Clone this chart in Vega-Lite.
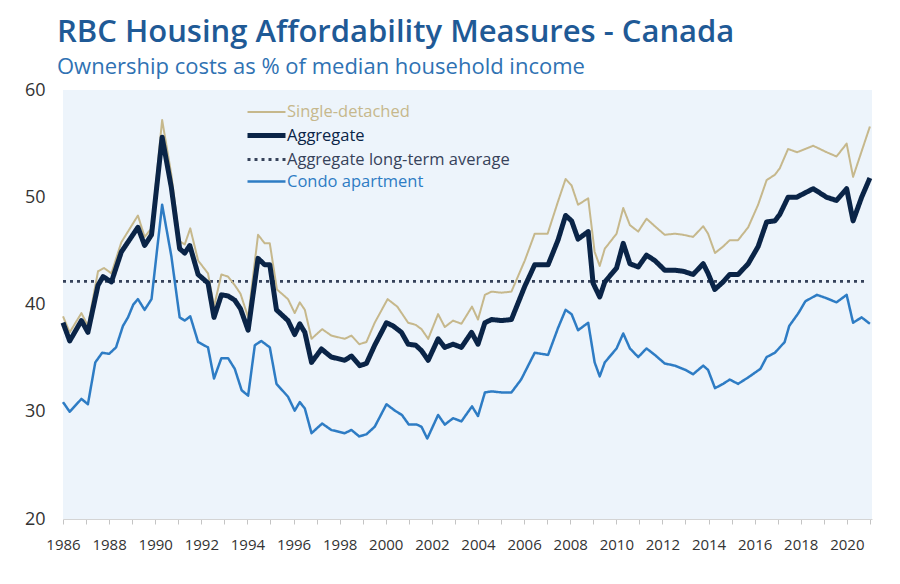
{
  "$schema": "https://vega.github.io/schema/vega-lite/v6.json",
  "width": 809,
  "height": 429,
  "autosize": {"type": "none"},
  "padding": {"left": 63, "top": 90, "right": 28, "bottom": 65},
  "background": "white",
  "view": {"fill": "#edf4fb", "stroke": null},
  "title": {
    "text": "RBC Housing Affordability Measures - Canada",
    "subtitle": "Ownership costs as % of median household income",
    "anchor": "start",
    "frame": "group",
    "dx": -6,
    "offset": 2,
    "font": "Open Sans",
    "fontSize": 31,
    "fontWeight": 600,
    "color": "#1f5a96",
    "subtitleFont": "Open Sans",
    "subtitleFontSize": 22,
    "subtitleColor": "#2f72b3",
    "subtitlePadding": 8
  },
  "config": {
    "font": "Open Sans",
    "legend": {
      "orient": "none",
      "legendX": 200,
      "legendY": 11,
      "title": null,
      "symbolType": "M-2.8,0H1",
      "symbolSize": 400,
      "labelFontSize": 16.5,
      "labelFont": "Open Sans",
      "labelOffset": -1,
      "labelLimit": 400,
      "rowPadding": 2
    }
  },
  "datasets": {
    "d": [
      {"s": "Aggregate long-term average", "t": 1986.0, "v": 42.15},
      {"s": "Aggregate long-term average", "t": 2020.77, "v": 42.15},
      {"s": "Aggregate", "t": 1986.0, "v": 38.3},
      {"s": "Aggregate", "t": 1986.29, "v": 36.6},
      {"s": "Aggregate", "t": 1986.8, "v": 38.5},
      {"s": "Aggregate", "t": 1987.08, "v": 37.4},
      {"s": "Aggregate", "t": 1987.52, "v": 41.8},
      {"s": "Aggregate", "t": 1987.74, "v": 42.6},
      {"s": "Aggregate", "t": 1988.1, "v": 42.1},
      {"s": "Aggregate", "t": 1988.53, "v": 44.9},
      {"s": "Aggregate", "t": 1989.25, "v": 47.2},
      {"s": "Aggregate", "t": 1989.54, "v": 45.5},
      {"s": "Aggregate", "t": 1989.84, "v": 46.5},
      {"s": "Aggregate", "t": 1990.3, "v": 55.6},
      {"s": "Aggregate", "t": 1990.7, "v": 50.9},
      {"s": "Aggregate", "t": 1991.06, "v": 45.2},
      {"s": "Aggregate", "t": 1991.28, "v": 44.8},
      {"s": "Aggregate", "t": 1991.5, "v": 45.5},
      {"s": "Aggregate", "t": 1991.86, "v": 42.8},
      {"s": "Aggregate", "t": 1992.29, "v": 42.0},
      {"s": "Aggregate", "t": 1992.55, "v": 38.8},
      {"s": "Aggregate", "t": 1992.87, "v": 40.9},
      {"s": "Aggregate", "t": 1993.16, "v": 40.8},
      {"s": "Aggregate", "t": 1993.45, "v": 40.4},
      {"s": "Aggregate", "t": 1993.7, "v": 39.6},
      {"s": "Aggregate", "t": 1994.03, "v": 37.6},
      {"s": "Aggregate", "t": 1994.46, "v": 44.3},
      {"s": "Aggregate", "t": 1994.75, "v": 43.7},
      {"s": "Aggregate", "t": 1994.97, "v": 43.7},
      {"s": "Aggregate", "t": 1995.26, "v": 39.5},
      {"s": "Aggregate", "t": 1995.76, "v": 38.5},
      {"s": "Aggregate", "t": 1996.05, "v": 37.2},
      {"s": "Aggregate", "t": 1996.27, "v": 38.2},
      {"s": "Aggregate", "t": 1996.49, "v": 37.4},
      {"s": "Aggregate", "t": 1996.78, "v": 34.6},
      {"s": "Aggregate", "t": 1997.21, "v": 35.85},
      {"s": "Aggregate", "t": 1997.64, "v": 35.1},
      {"s": "Aggregate", "t": 1998.22, "v": 34.8},
      {"s": "Aggregate", "t": 1998.51, "v": 35.2},
      {"s": "Aggregate", "t": 1998.87, "v": 34.3},
      {"s": "Aggregate", "t": 1999.16, "v": 34.5},
      {"s": "Aggregate", "t": 1999.52, "v": 36.2},
      {"s": "Aggregate", "t": 2000.03, "v": 38.3},
      {"s": "Aggregate", "t": 2000.32, "v": 38.0},
      {"s": "Aggregate", "t": 2000.68, "v": 37.4},
      {"s": "Aggregate", "t": 2000.97, "v": 36.3},
      {"s": "Aggregate", "t": 2001.3, "v": 36.2},
      {"s": "Aggregate", "t": 2001.55, "v": 35.7},
      {"s": "Aggregate", "t": 2001.84, "v": 34.8},
      {"s": "Aggregate", "t": 2002.27, "v": 36.8},
      {"s": "Aggregate", "t": 2002.56, "v": 36.0},
      {"s": "Aggregate", "t": 2002.92, "v": 36.3},
      {"s": "Aggregate", "t": 2003.28, "v": 36.0},
      {"s": "Aggregate", "t": 2003.72, "v": 37.4},
      {"s": "Aggregate", "t": 2004.0, "v": 36.3},
      {"s": "Aggregate", "t": 2004.3, "v": 38.3},
      {"s": "Aggregate", "t": 2004.59, "v": 38.6},
      {"s": "Aggregate", "t": 2005.02, "v": 38.5},
      {"s": "Aggregate", "t": 2005.45, "v": 38.6},
      {"s": "Aggregate", "t": 2006.03, "v": 41.7},
      {"s": "Aggregate", "t": 2006.46, "v": 43.7},
      {"s": "Aggregate", "t": 2007.04, "v": 43.7},
      {"s": "Aggregate", "t": 2007.47, "v": 46.0},
      {"s": "Aggregate", "t": 2007.8, "v": 48.3},
      {"s": "Aggregate", "t": 2008.06, "v": 47.8},
      {"s": "Aggregate", "t": 2008.34, "v": 46.1},
      {"s": "Aggregate", "t": 2008.78, "v": 46.8},
      {"s": "Aggregate", "t": 2008.99, "v": 42.0},
      {"s": "Aggregate", "t": 2009.28, "v": 40.7},
      {"s": "Aggregate", "t": 2009.5, "v": 42.1},
      {"s": "Aggregate", "t": 2010.01, "v": 43.4},
      {"s": "Aggregate", "t": 2010.3, "v": 45.7},
      {"s": "Aggregate", "t": 2010.59, "v": 43.8},
      {"s": "Aggregate", "t": 2010.95, "v": 43.5},
      {"s": "Aggregate", "t": 2011.31, "v": 44.6},
      {"s": "Aggregate", "t": 2011.67, "v": 44.1},
      {"s": "Aggregate", "t": 2012.1, "v": 43.2},
      {"s": "Aggregate", "t": 2012.54, "v": 43.2},
      {"s": "Aggregate", "t": 2012.9, "v": 43.1},
      {"s": "Aggregate", "t": 2013.33, "v": 42.8},
      {"s": "Aggregate", "t": 2013.77, "v": 43.8},
      {"s": "Aggregate", "t": 2013.98, "v": 42.9},
      {"s": "Aggregate", "t": 2014.27, "v": 41.4},
      {"s": "Aggregate", "t": 2014.63, "v": 42.1},
      {"s": "Aggregate", "t": 2014.92, "v": 42.8},
      {"s": "Aggregate", "t": 2015.28, "v": 42.8},
      {"s": "Aggregate", "t": 2015.72, "v": 43.8},
      {"s": "Aggregate", "t": 2016.15, "v": 45.4},
      {"s": "Aggregate", "t": 2016.52, "v": 47.7},
      {"s": "Aggregate", "t": 2016.88, "v": 47.8},
      {"s": "Aggregate", "t": 2017.09, "v": 48.4},
      {"s": "Aggregate", "t": 2017.45, "v": 50.0},
      {"s": "Aggregate", "t": 2017.82, "v": 50.0},
      {"s": "Aggregate", "t": 2018.54, "v": 50.8},
      {"s": "Aggregate", "t": 2019.12, "v": 50.0},
      {"s": "Aggregate", "t": 2019.55, "v": 49.7},
      {"s": "Aggregate", "t": 2019.99, "v": 50.8},
      {"s": "Aggregate", "t": 2020.27, "v": 47.8},
      {"s": "Aggregate", "t": 2020.64, "v": 50.0},
      {"s": "Aggregate", "t": 2021.0, "v": 51.8},
      {"s": "Single-detached", "t": 1986.0, "v": 38.9},
      {"s": "Single-detached", "t": 1986.29, "v": 37.4},
      {"s": "Single-detached", "t": 1986.8, "v": 39.2},
      {"s": "Single-detached", "t": 1987.08, "v": 38.0},
      {"s": "Single-detached", "t": 1987.52, "v": 43.1},
      {"s": "Single-detached", "t": 1987.78, "v": 43.4},
      {"s": "Single-detached", "t": 1988.1, "v": 42.9},
      {"s": "Single-detached", "t": 1988.53, "v": 45.8},
      {"s": "Single-detached", "t": 1989.25, "v": 48.3},
      {"s": "Single-detached", "t": 1989.54, "v": 46.3},
      {"s": "Single-detached", "t": 1989.84, "v": 47.1},
      {"s": "Single-detached", "t": 1990.3, "v": 57.2},
      {"s": "Single-detached", "t": 1990.7, "v": 52.1},
      {"s": "Single-detached", "t": 1991.06, "v": 45.9},
      {"s": "Single-detached", "t": 1991.28, "v": 45.6},
      {"s": "Single-detached", "t": 1991.52, "v": 47.1},
      {"s": "Single-detached", "t": 1991.86, "v": 44.1},
      {"s": "Single-detached", "t": 1992.29, "v": 42.9},
      {"s": "Single-detached", "t": 1992.55, "v": 39.8},
      {"s": "Single-detached", "t": 1992.87, "v": 42.8},
      {"s": "Single-detached", "t": 1993.16, "v": 42.6},
      {"s": "Single-detached", "t": 1993.45, "v": 41.8},
      {"s": "Single-detached", "t": 1993.7, "v": 41.0},
      {"s": "Single-detached", "t": 1994.03, "v": 38.8},
      {"s": "Single-detached", "t": 1994.46, "v": 46.5},
      {"s": "Single-detached", "t": 1994.75, "v": 45.7},
      {"s": "Single-detached", "t": 1994.97, "v": 45.7},
      {"s": "Single-detached", "t": 1995.28, "v": 41.4},
      {"s": "Single-detached", "t": 1995.76, "v": 40.5},
      {"s": "Single-detached", "t": 1996.05, "v": 39.2},
      {"s": "Single-detached", "t": 1996.27, "v": 40.2},
      {"s": "Single-detached", "t": 1996.49, "v": 39.5},
      {"s": "Single-detached", "t": 1996.78, "v": 36.8},
      {"s": "Single-detached", "t": 1997.24, "v": 37.7},
      {"s": "Single-detached", "t": 1997.64, "v": 37.1},
      {"s": "Single-detached", "t": 1998.22, "v": 36.8},
      {"s": "Single-detached", "t": 1998.51, "v": 37.1},
      {"s": "Single-detached", "t": 1998.85, "v": 36.3},
      {"s": "Single-detached", "t": 1999.16, "v": 36.5},
      {"s": "Single-detached", "t": 1999.52, "v": 38.3},
      {"s": "Single-detached", "t": 2000.08, "v": 40.5},
      {"s": "Single-detached", "t": 2000.5, "v": 39.8},
      {"s": "Single-detached", "t": 2000.97, "v": 38.3},
      {"s": "Single-detached", "t": 2001.3, "v": 38.1},
      {"s": "Single-detached", "t": 2001.55, "v": 37.7},
      {"s": "Single-detached", "t": 2001.84, "v": 36.8},
      {"s": "Single-detached", "t": 2002.27, "v": 39.1},
      {"s": "Single-detached", "t": 2002.56, "v": 37.9},
      {"s": "Single-detached", "t": 2002.92, "v": 38.5},
      {"s": "Single-detached", "t": 2003.28, "v": 38.2},
      {"s": "Single-detached", "t": 2003.74, "v": 39.8},
      {"s": "Single-detached", "t": 2004.0, "v": 38.6},
      {"s": "Single-detached", "t": 2004.3, "v": 40.9},
      {"s": "Single-detached", "t": 2004.59, "v": 41.2},
      {"s": "Single-detached", "t": 2005.02, "v": 41.1},
      {"s": "Single-detached", "t": 2005.45, "v": 41.2},
      {"s": "Single-detached", "t": 2006.03, "v": 44.1},
      {"s": "Single-detached", "t": 2006.46, "v": 46.6},
      {"s": "Single-detached", "t": 2007.02, "v": 46.6},
      {"s": "Single-detached", "t": 2007.47, "v": 49.6},
      {"s": "Single-detached", "t": 2007.8, "v": 51.7},
      {"s": "Single-detached", "t": 2008.06, "v": 51.1},
      {"s": "Single-detached", "t": 2008.34, "v": 49.3},
      {"s": "Single-detached", "t": 2008.78, "v": 49.9},
      {"s": "Single-detached", "t": 2009.06, "v": 44.9},
      {"s": "Single-detached", "t": 2009.28, "v": 43.6},
      {"s": "Single-detached", "t": 2009.5, "v": 45.2},
      {"s": "Single-detached", "t": 2010.01, "v": 46.6},
      {"s": "Single-detached", "t": 2010.3, "v": 49.0},
      {"s": "Single-detached", "t": 2010.59, "v": 47.4},
      {"s": "Single-detached", "t": 2010.95, "v": 46.8},
      {"s": "Single-detached", "t": 2011.31, "v": 48.0},
      {"s": "Single-detached", "t": 2011.67, "v": 47.3},
      {"s": "Single-detached", "t": 2012.1, "v": 46.5},
      {"s": "Single-detached", "t": 2012.54, "v": 46.6},
      {"s": "Single-detached", "t": 2012.9, "v": 46.5},
      {"s": "Single-detached", "t": 2013.33, "v": 46.3},
      {"s": "Single-detached", "t": 2013.77, "v": 47.3},
      {"s": "Single-detached", "t": 2013.98, "v": 46.6},
      {"s": "Single-detached", "t": 2014.28, "v": 44.8},
      {"s": "Single-detached", "t": 2014.63, "v": 45.4},
      {"s": "Single-detached", "t": 2014.92, "v": 46.0},
      {"s": "Single-detached", "t": 2015.28, "v": 46.0},
      {"s": "Single-detached", "t": 2015.72, "v": 47.2},
      {"s": "Single-detached", "t": 2016.15, "v": 49.3},
      {"s": "Single-detached", "t": 2016.52, "v": 51.6},
      {"s": "Single-detached", "t": 2016.88, "v": 52.1},
      {"s": "Single-detached", "t": 2017.09, "v": 52.7},
      {"s": "Single-detached", "t": 2017.45, "v": 54.5},
      {"s": "Single-detached", "t": 2017.84, "v": 54.2},
      {"s": "Single-detached", "t": 2018.54, "v": 54.8},
      {"s": "Single-detached", "t": 2019.12, "v": 54.2},
      {"s": "Single-detached", "t": 2019.55, "v": 53.8},
      {"s": "Single-detached", "t": 2019.99, "v": 55.0},
      {"s": "Single-detached", "t": 2020.27, "v": 51.9},
      {"s": "Single-detached", "t": 2021.0, "v": 56.6},
      {"s": "Condo apartment", "t": 1986.0, "v": 30.9},
      {"s": "Condo apartment", "t": 1986.29, "v": 30.0},
      {"s": "Condo apartment", "t": 1986.8, "v": 31.2},
      {"s": "Condo apartment", "t": 1987.08, "v": 30.7},
      {"s": "Condo apartment", "t": 1987.4, "v": 34.6},
      {"s": "Condo apartment", "t": 1987.7, "v": 35.5},
      {"s": "Condo apartment", "t": 1988.0, "v": 35.4},
      {"s": "Condo apartment", "t": 1988.3, "v": 36.0},
      {"s": "Condo apartment", "t": 1988.6, "v": 38.0},
      {"s": "Condo apartment", "t": 1988.82, "v": 38.8},
      {"s": "Condo apartment", "t": 1989.05, "v": 40.0},
      {"s": "Condo apartment", "t": 1989.25, "v": 40.5},
      {"s": "Condo apartment", "t": 1989.54, "v": 39.5},
      {"s": "Condo apartment", "t": 1989.84, "v": 40.5},
      {"s": "Condo apartment", "t": 1990.3, "v": 49.3},
      {"s": "Condo apartment", "t": 1990.7, "v": 44.5},
      {"s": "Condo apartment", "t": 1991.06, "v": 38.8},
      {"s": "Condo apartment", "t": 1991.28, "v": 38.5},
      {"s": "Condo apartment", "t": 1991.52, "v": 38.9},
      {"s": "Condo apartment", "t": 1991.86, "v": 36.5},
      {"s": "Condo apartment", "t": 1992.29, "v": 36.0},
      {"s": "Condo apartment", "t": 1992.55, "v": 33.1},
      {"s": "Condo apartment", "t": 1992.87, "v": 35.0},
      {"s": "Condo apartment", "t": 1993.16, "v": 35.0},
      {"s": "Condo apartment", "t": 1993.45, "v": 34.0},
      {"s": "Condo apartment", "t": 1993.75, "v": 32.0},
      {"s": "Condo apartment", "t": 1994.03, "v": 31.5},
      {"s": "Condo apartment", "t": 1994.32, "v": 36.2},
      {"s": "Condo apartment", "t": 1994.6, "v": 36.6},
      {"s": "Condo apartment", "t": 1994.97, "v": 36.0},
      {"s": "Condo apartment", "t": 1995.26, "v": 32.6},
      {"s": "Condo apartment", "t": 1995.76, "v": 31.4},
      {"s": "Condo apartment", "t": 1996.05, "v": 30.1},
      {"s": "Condo apartment", "t": 1996.27, "v": 30.9},
      {"s": "Condo apartment", "t": 1996.49, "v": 30.3},
      {"s": "Condo apartment", "t": 1996.78, "v": 28.0},
      {"s": "Condo apartment", "t": 1997.24, "v": 28.9},
      {"s": "Condo apartment", "t": 1997.64, "v": 28.3},
      {"s": "Condo apartment", "t": 1998.22, "v": 28.0},
      {"s": "Condo apartment", "t": 1998.51, "v": 28.3},
      {"s": "Condo apartment", "t": 1998.85, "v": 27.7},
      {"s": "Condo apartment", "t": 1999.16, "v": 27.9},
      {"s": "Condo apartment", "t": 1999.52, "v": 28.6},
      {"s": "Condo apartment", "t": 2000.03, "v": 30.7},
      {"s": "Condo apartment", "t": 2000.4, "v": 30.1},
      {"s": "Condo apartment", "t": 2000.7, "v": 29.7},
      {"s": "Condo apartment", "t": 2001.0, "v": 28.8},
      {"s": "Condo apartment", "t": 2001.35, "v": 28.8},
      {"s": "Condo apartment", "t": 2001.55, "v": 28.6},
      {"s": "Condo apartment", "t": 2001.8, "v": 27.5},
      {"s": "Condo apartment", "t": 2002.27, "v": 29.7},
      {"s": "Condo apartment", "t": 2002.56, "v": 28.8},
      {"s": "Condo apartment", "t": 2002.92, "v": 29.4},
      {"s": "Condo apartment", "t": 2003.28, "v": 29.1},
      {"s": "Condo apartment", "t": 2003.74, "v": 30.5},
      {"s": "Condo apartment", "t": 2004.0, "v": 29.6},
      {"s": "Condo apartment", "t": 2004.3, "v": 31.8},
      {"s": "Condo apartment", "t": 2004.59, "v": 31.9},
      {"s": "Condo apartment", "t": 2005.02, "v": 31.8},
      {"s": "Condo apartment", "t": 2005.45, "v": 31.8},
      {"s": "Condo apartment", "t": 2005.87, "v": 33.0},
      {"s": "Condo apartment", "t": 2006.46, "v": 35.5},
      {"s": "Condo apartment", "t": 2007.04, "v": 35.3},
      {"s": "Condo apartment", "t": 2007.47, "v": 37.8},
      {"s": "Condo apartment", "t": 2007.8, "v": 39.5},
      {"s": "Condo apartment", "t": 2008.06, "v": 39.1},
      {"s": "Condo apartment", "t": 2008.34, "v": 37.6},
      {"s": "Condo apartment", "t": 2008.78, "v": 38.3},
      {"s": "Condo apartment", "t": 2009.06, "v": 34.6},
      {"s": "Condo apartment", "t": 2009.28, "v": 33.3},
      {"s": "Condo apartment", "t": 2009.5, "v": 34.6},
      {"s": "Condo apartment", "t": 2010.01, "v": 35.9},
      {"s": "Condo apartment", "t": 2010.3, "v": 37.3},
      {"s": "Condo apartment", "t": 2010.59, "v": 35.9},
      {"s": "Condo apartment", "t": 2010.95, "v": 35.1},
      {"s": "Condo apartment", "t": 2011.31, "v": 35.9},
      {"s": "Condo apartment", "t": 2011.67, "v": 35.3},
      {"s": "Condo apartment", "t": 2012.1, "v": 34.5},
      {"s": "Condo apartment", "t": 2012.54, "v": 34.3},
      {"s": "Condo apartment", "t": 2013.0, "v": 33.9},
      {"s": "Condo apartment", "t": 2013.33, "v": 33.5},
      {"s": "Condo apartment", "t": 2013.77, "v": 34.3},
      {"s": "Condo apartment", "t": 2013.98, "v": 33.9},
      {"s": "Condo apartment", "t": 2014.28, "v": 32.2},
      {"s": "Condo apartment", "t": 2014.63, "v": 32.6},
      {"s": "Condo apartment", "t": 2014.92, "v": 33.0},
      {"s": "Condo apartment", "t": 2015.28, "v": 32.6},
      {"s": "Condo apartment", "t": 2015.72, "v": 33.2},
      {"s": "Condo apartment", "t": 2016.25, "v": 34.0},
      {"s": "Condo apartment", "t": 2016.52, "v": 35.1},
      {"s": "Condo apartment", "t": 2016.88, "v": 35.5},
      {"s": "Condo apartment", "t": 2017.09, "v": 36.0},
      {"s": "Condo apartment", "t": 2017.3, "v": 36.5},
      {"s": "Condo apartment", "t": 2017.5, "v": 38.0},
      {"s": "Condo apartment", "t": 2017.9, "v": 39.2},
      {"s": "Condo apartment", "t": 2018.2, "v": 40.3},
      {"s": "Condo apartment", "t": 2018.7, "v": 40.9},
      {"s": "Condo apartment", "t": 2019.1, "v": 40.6},
      {"s": "Condo apartment", "t": 2019.55, "v": 40.2},
      {"s": "Condo apartment", "t": 2019.99, "v": 40.9},
      {"s": "Condo apartment", "t": 2020.27, "v": 38.3},
      {"s": "Condo apartment", "t": 2020.64, "v": 38.8},
      {"s": "Condo apartment", "t": 2021.0, "v": 38.2}
    ]
  },
  "data": {"name": "d"},
  "encoding": {
    "x": {
      "field": "t",
      "type": "quantitative",
      "scale": {"domain": [1986, 2021.09], "nice": false, "zero": false},
      "axis": {
        "title": null,
        "values": [1986,1987,1988,1989,1990,1991,1992,1993,1994,1995,1996,1997,1998,1999,2000,2001,2002,2003,2004,2005,2006,2007,2008,2009,2010,2011,2012,2013,2014,2015,2016,2017,2018,2019,2020,2021],
        "labelExpr": "datum.value % 2 == 0 ? '' + datum.value : ''",
        "labelFlush": false,
        "grid": false,
        "domainColor": "#d4d4d4",
        "tickColor": "#c4c4c4",
        "tickSize": 5,
        "labelFontSize": 15,
        "labelColor": "#333333",
        "labelPadding": 13,
        "labelFont": "Open Sans",
        "labelOverlap": false
      }
    },
    "y": {
      "field": "v",
      "type": "quantitative",
      "scale": {"domain": [20, 60], "nice": false, "zero": false},
      "axis": {
        "title": null,
        "values": [20, 30, 40, 50, 60],
        "grid": false,
        "domain": false,
        "ticks": false,
        "tickSize": 0,
        "labelFontSize": 18,
        "labelColor": "#333333",
        "labelPadding": 18,
        "labelFont": "Open Sans"
      }
    },
    "color": {
      "field": "s",
      "type": "nominal",
      "scale": {
        "domain": ["Single-detached", "Aggregate", "Aggregate long-term average", "Condo apartment"],
        "range": ["#c6b88c", "#0a2447", "#36425a", "#2e7cc4"]
      },
      "legend": {
        "encode": {"labels": {"update": {"fill": {"scale": "color", "field": "value"}}}}
      }
    },
    "strokeDash": {
      "field": "s",
      "type": "nominal",
      "scale": {
        "domain": ["Single-detached", "Aggregate", "Aggregate long-term average", "Condo apartment"],
        "range": [[1, 0], [1, 0], [3, 4], [1, 0]]
      }
    },
    "strokeWidth": {
      "field": "s",
      "type": "nominal",
      "scale": {
        "type": "ordinal",
        "domain": ["Single-detached", "Aggregate", "Aggregate long-term average", "Condo apartment"],
        "range": [2, 5, 2.8, 2.5]
      }
    }
  },
  "layer": [
    {"transform": [{"filter": "datum.s != 'Aggregate'"}], "mark": {"type": "line", "strokeJoin": "round"}},
    {"transform": [{"filter": "datum.s == 'Aggregate'"}], "mark": {"type": "line", "strokeJoin": "round"}}
  ]
}
